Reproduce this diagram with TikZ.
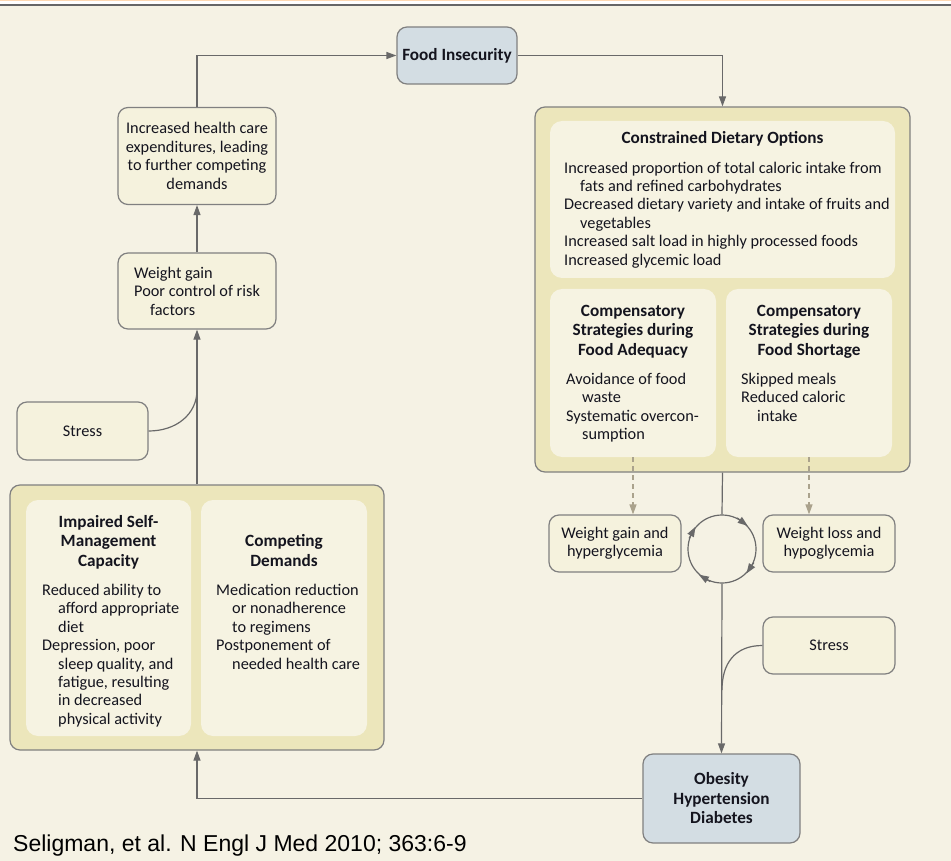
\documentclass[tikz,border=0pt]{standalone}
\usepackage{fontspec}
\setmainfont{Carlito}
\newfontfamily\creditfont{Liberation Sans}
\usetikzlibrary{positioning, arrows.meta}

\definecolor{bgc}{RGB}{245,242,228}
\definecolor{boxfill}{RGB}{245,242,221}
\definecolor{framefill}{RGB}{236,230,187}
\definecolor{panelfill}{RGB}{246,243,226}
\definecolor{bluefill}{RGB}{211,221,227}
\definecolor{boxline}{RGB}{128,128,128}
\definecolor{connc}{RGB}{105,105,105}
\definecolor{dashc}{RGB}{170,162,140}
\definecolor{txtc}{RGB}{20,20,30}

\newcommand{\txt}{\fontsize{16.3}{18.4}\selectfont}
\newcommand{\hd}{\fontsize{17.2}{19.5}\selectfont\bfseries}
\newcommand{\cont}{\hspace*{16pt}}

\begin{document}
\begin{tikzpicture}[x=1pt, y=-1pt, >={Triangle[length=10pt,width=7pt]},
    box/.style={draw=boxline, fill=boxfill, line width=1.2pt, rounded corners=10pt,
                inner sep=0pt, font=\txt, text=txtc, align=center},
    bluebox/.style={box, fill=bluefill, font=\hd},
    frame/.style={draw=boxline, fill=framefill, line width=1.2pt, rounded corners=10pt, inner sep=0pt},
    panel/.style={fill=panelfill, rounded corners=12pt, inner sep=0pt},
    head/.style={font=\hd, text=txtc, align=center, anchor=north, inner sep=0pt},
    body/.style={font=\txt, text=txtc, align=left, anchor=north west, inner sep=0pt},
    conn/.style={draw=connc, line width=1.2pt},
    dasharrow/.style={draw=dashc, line width=1.2pt, dashed, dash pattern=on 5pt off 4pt}]
    \useasboundingbox (0,0) rectangle (951,861);
    \fill[bgc] (0,0) rectangle (951,861);
    \fill[orange!30] (0,0) rectangle (951,1.5);
    \fill[white] (0,1.5) rectangle (951,3.7);
    \fill[black!60] (0,3.7) rectangle (951,5.8);

    % top of the loop
    \node[bluebox, minimum width=120pt, minimum height=57pt] (fi) at (457,55.5) {Food Insecurity};

    % left column
    \node[box, minimum width=158pt, minimum height=97pt] (hce) at (197,156)
        {Increased health care\\expenditures, leading\\to further competing\\demands};
    \node[box, minimum width=158pt, minimum height=76pt] (wg) at (197,291) {};
    \node[body] (wgtext) at (134,267) {Weight gain\\Poor control of risk\\\cont factors};
    \node[box, minimum width=131pt, minimum height=58pt] (stressL) at (82.5,431) {Stress};
    \coordinate (jl) at (197,390);

    \node[frame, minimum width=374pt, minimum height=265pt] (lframe) at (197,617.5) {};
    \node[panel, minimum width=165pt, minimum height=236pt] (pimp) at (108.5,618) {};
    \node[panel, minimum width=166pt, minimum height=236pt] (pcomp) at (284,618) {};
    \node[head] (himp) at (108.5,515) {Impaired Self-\\Management\\Capacity};
    \node[body] (bimp) at (42,584) {Reduced ability to\\\cont afford appropriate\\\cont diet\\Depression, poor\\\cont sleep quality, and\\\cont fatigue, resulting\\\cont in decreased\\\cont physical activity};
    \node[head] (hcomp) at (284,534.5) {Competing\\Demands};
    \node[body] (bcomp) at (216,584) {Medication reduction\\\cont or nonadherence\\\cont to regimens\\Postponement of\\\cont needed health care};

    % right column
    \node[frame, minimum width=375pt, minimum height=365pt] (rframe) at (722.5,289.5) {};
    \node[panel, minimum width=345pt, minimum height=157pt] (pdiet) at (722.5,199.5) {};
    \node[head] (hdiet) at (722.5,131) {Constrained Dietary Options};
    \node[body] (bdiet) at (564,161.5) {Increased proportion of total caloric intake from\\\cont fats and refined carbohydrates\\Decreased dietary variety and intake of fruits and\\\cont vegetables\\Increased salt load in highly processed foods\\Increased glycemic load};
    \node[panel, minimum width=166pt, minimum height=168pt] (pad) at (633,373) {};
    \node[panel, minimum width=166pt, minimum height=168pt] (psh) at (809,373) {};
    \node[head] (had) at (633,305) {Compensatory\\Strategies during\\Food Adequacy};
    \node[body] (bad) at (566,373) {Avoidance of food\\\cont waste\\Systematic overcon-\\\cont sumption};
    \node[head] (hsh) at (809,305) {Compensatory\\Strategies during\\Food Shortage};
    \node[body] (bsh) at (741,373) {Skipped meals\\Reduced caloric\\\cont intake};

    \node[box, minimum width=132pt, minimum height=57pt] (wgh) at (615,543.5) {Weight gain and\\hyperglycemia};
    \node[box, minimum width=132pt, minimum height=57pt] (wlh) at (829,543.5) {Weight loss and\\hypoglycemia};
    \node[circle, draw=connc, line width=1.2pt, minimum size=68pt, inner sep=0pt] (cyc) at (722,549) {};
    \node[box, minimum width=132pt, minimum height=57pt] (stressR) at (829,645.5) {Stress};
    \coordinate (jr) at (722,690);
    \node[bluebox, minimum width=157pt, minimum height=89pt] (ob) at (721.5,798.5) {Obesity\\Hypertension\\Diabetes};

    % connectors
    \draw[conn, ->] (hce.north) |- (fi.west);
    \draw[conn, ->] (fi.east) -| (rframe.north);
    \draw[conn, ->] (wg.north) -- (hce.south);
    \draw[conn, ->] (lframe.north) -- (wg.south);
    \draw[conn] (stressL.east) .. controls +(28,0) and +(0,24) .. (jl);
    \draw[dasharrow, ->] (pad.south) -- (pad.south |- wgh.north);
    \draw[dasharrow, ->] (psh.south) -- (psh.south |- wlh.north);
    \draw[conn] (rframe.south) -- (cyc.north);
    \draw[conn, ->] (cyc.south) -- (ob.north);
    \draw[conn] (stressR.west) .. controls +(-28,0) and +(0,-26) .. (jr);
    \draw[conn, ->] (ob.west) -| (lframe.south);
    % arrows round the cycle
    \draw[conn, ->] (cyc.162) -- (cyc.140);
    \draw[conn, ->] (cyc.64) -- (cyc.42);
    \draw[conn, ->] (cyc.-23) -- (cyc.-45);
    \draw[conn, ->] (cyc.-110) -- (cyc.-132);

    \node[anchor=base west, inner sep=0pt, font=\creditfont\fontsize{23}{27}\selectfont] (credit) at (13,851)
        {Seligman, et al. N Engl J Med 2010; 363:6-9};
\end{tikzpicture}
\end{document}
